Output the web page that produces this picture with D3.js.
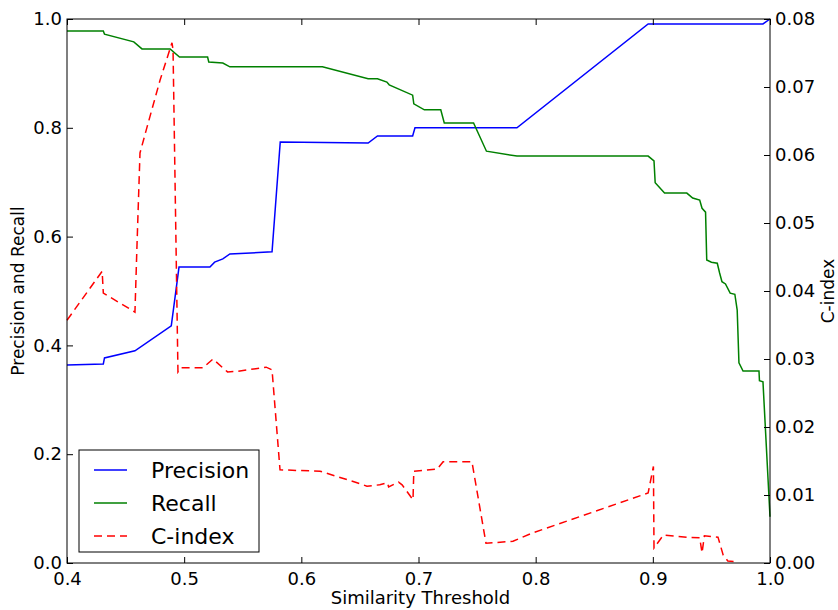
<!DOCTYPE html>
<html>
<head>
<meta charset="utf-8">
<script src="https://cdn.jsdelivr.net/npm/d3@7"></script>
<style>
  body { margin: 0; background: #fff; }
  svg { display: block; font-family: "DejaVu Sans", sans-serif; }
</style>
</head>
<body>
<svg id="chart" width="838" height="610"></svg>
<script>
// data
const precisionX = [0.4, 0.431, 0.432, 0.458, 0.489, 0.4956, 0.522, 0.526, 0.533, 0.539, 0.575, 0.582, 0.657, 0.665, 0.695, 0.697, 0.784, 0.896, 0.994, 1.0];
const precisionY = [0.364, 0.366, 0.377, 0.390, 0.436, 0.544, 0.544, 0.553, 0.559, 0.568, 0.572, 0.774, 0.772, 0.785, 0.785, 0.800, 0.800, 0.991, 0.991, 1.0];

const recallX = [0.4, 0.431, 0.432, 0.457, 0.464, 0.488, 0.496, 0.520, 0.521, 0.533, 0.539, 0.618, 0.657, 0.665, 0.673, 0.675, 0.695, 0.696, 0.705, 0.719, 0.722, 0.747, 0.758, 0.784, 0.896, 0.901, 0.902, 0.910, 0.929, 0.934, 0.940, 0.942, 0.945, 0.946, 0.950, 0.955, 0.957, 0.959, 0.962, 0.966, 0.970, 0.972, 0.9735, 0.977, 0.9906, 0.991, 0.994, 1.0];
const recallY = [0.978, 0.978, 0.972, 0.958, 0.945, 0.945, 0.930, 0.930, 0.921, 0.919, 0.912, 0.912, 0.890, 0.890, 0.884, 0.879, 0.860, 0.844, 0.833, 0.833, 0.809, 0.809, 0.757, 0.748, 0.748, 0.739, 0.699, 0.680, 0.680, 0.671, 0.667, 0.652, 0.645, 0.557, 0.553, 0.551, 0.533, 0.517, 0.513, 0.496, 0.494, 0.465, 0.368, 0.353, 0.353, 0.335, 0.333, 0.085];

const cindexX = [0.4, 0.430, 0.431, 0.458, 0.4597, 0.4623, 0.4683, 0.4794, 0.4896, 0.4905, 0.4947, 0.497, 0.516, 0.5246, 0.533, 0.537, 0.546, 0.570, 0.575, 0.5818, 0.616, 0.6475, 0.656, 0.667, 0.6735, 0.6745, 0.683, 0.686, 0.6953, 0.696, 0.716, 0.721, 0.7456, 0.7576, 0.7806, 0.797, 0.896, 0.9005, 0.901, 0.909, 0.929, 0.940, 0.942, 0.944, 0.9556, 0.960, 0.964, 0.972];
const cindexY = [0.0357, 0.0429, 0.0397, 0.0369, 0.0465, 0.0603, 0.0641, 0.0710, 0.0765, 0.0755, 0.0281, 0.0287, 0.0287, 0.0300, 0.0287, 0.0281, 0.0282, 0.0288, 0.0284, 0.0137, 0.0135, 0.0118, 0.0113, 0.0115, 0.0118, 0.0112, 0.0119, 0.0115, 0.0093, 0.0135, 0.0138, 0.0149, 0.0149, 0.0029, 0.0032, 0.0044, 0.0103, 0.0142, 0.0022, 0.0041, 0.0038, 0.0037, 0.0015, 0.0040, 0.0038, 0.0012, 0.0003, 0.0002];

const xTicks = [0.4, 0.5, 0.6, 0.7, 0.8, 0.9, 1.0];
const leftTicks = [0.0, 0.2, 0.4, 0.6, 0.8, 1.0];
const rightTicks = [0, 0.01, 0.02, 0.03, 0.04, 0.05, 0.06, 0.07, 0.08];
const seriesNames = ["Precision", "Recall", "C-index"];
const seriesColors = ["#0000ff", "#008000", "#ff0000"];

const margin = { left: 67, top: 19, right: 68, bottom: 47 };
const width = 838 - margin.left - margin.right;
const height = 610 - margin.top - margin.bottom;

const svg = d3.select("#chart");
const g = svg.append("g").attr("transform", `translate(${margin.left},${margin.top})`);

const x = d3.scaleLinear().domain([0.4, 1.0]).range([0, width]);
const yLeft = d3.scaleLinear().domain([0, 1]).range([height, 0]);
const yRight = d3.scaleLinear().domain([0, 0.08]).range([height, 0]);

// lines
function drawLine(xs, ys, yScale, color, dash) {
  const pts = xs.map((v, i) => [v, ys[i]]);
  const line = d3.line().x(d => x(d[0])).y(d => yScale(d[1]));
  g.append("path")
    .datum(pts)
    .attr("fill", "none")
    .attr("stroke", color)
    .attr("stroke-width", 1.5)
    .attr("stroke-dasharray", dash || null)
    .attr("d", line);
}
drawLine(precisionX, precisionY, yLeft, seriesColors[0]);
drawLine(recallX, recallY, yLeft, seriesColors[1]);
drawLine(cindexX, cindexY, yRight, seriesColors[2], "8,5");

// axes, ticks pointing inward like matplotlib
const fontSize = 18;
function styleAxis(sel) {
  sel.select(".domain").remove();
  sel.selectAll("line").attr("stroke", "#000");
  sel.selectAll("text").attr("font-size", fontSize).attr("fill", "#000").attr("font-family", "DejaVu Sans");
}
const xAxisBottom = g.append("g").attr("transform", `translate(0,${height})`)
  .call(d3.axisBottom(x).tickValues(xTicks).tickFormat(d3.format(".1f")).tickSizeInner(-6).tickPadding(9));
styleAxis(xAxisBottom);
xAxisBottom.selectAll("text").attr("dy", "0.71em");

const xAxisTop = g.append("g")
  .call(d3.axisTop(x).tickValues(xTicks).tickFormat("").tickSizeInner(-6));
styleAxis(xAxisTop);

const yAxisLeft = g.append("g")
  .call(d3.axisLeft(yLeft).tickValues(leftTicks).tickFormat(d3.format(".1f")).tickSizeInner(-6).tickPadding(5));
styleAxis(yAxisLeft);

const yAxisRight = g.append("g").attr("transform", `translate(${width},0)`)
  .call(d3.axisRight(yRight).tickValues(rightTicks).tickFormat(d3.format(".2f")).tickSizeInner(-6).tickPadding(5));
styleAxis(yAxisRight);

// frame
g.append("rect")
  .attr("width", width).attr("height", height)
  .attr("fill", "none").attr("stroke", "#000").attr("stroke-width", 1);

// axis labels
svg.append("text")
  .attr("x", margin.left + width / 2 + 2).attr("y", 604)
  .attr("text-anchor", "middle").attr("font-size", 18)
  .text("Similarity Threshold");

svg.append("text")
  .attr("transform", `translate(24,${margin.top + height / 2}) rotate(-90)`)
  .attr("text-anchor", "middle").attr("font-size", 17)
  .text("Precision and Recall");

svg.append("text")
  .attr("transform", `translate(834,${margin.top + height / 2}) rotate(-90)`)
  .attr("text-anchor", "middle").attr("font-size", 17)
  .text("C-index");

// legend
const legend = svg.append("g").attr("transform", "translate(79,450)");
legend.append("rect")
  .attr("width", 180).attr("height", 102)
  .attr("fill", "#fff").attr("stroke", "#000").attr("stroke-width", 1);
seriesNames.forEach((name, i) => {
  const yy = 20 + i * 33;
  legend.append("line")
    .attr("x1", 15).attr("x2", 48).attr("y1", yy).attr("y2", yy)
    .attr("stroke", seriesColors[i]).attr("stroke-width", 1.5)
    .attr("stroke-dasharray", i === 2 ? "8,5" : null);
  legend.append("text")
    .attr("x", 72).attr("y", yy).attr("dy", "0.35em")
    .attr("font-size", 22)
    .text(name);
});
</script>
</body>
</html>
